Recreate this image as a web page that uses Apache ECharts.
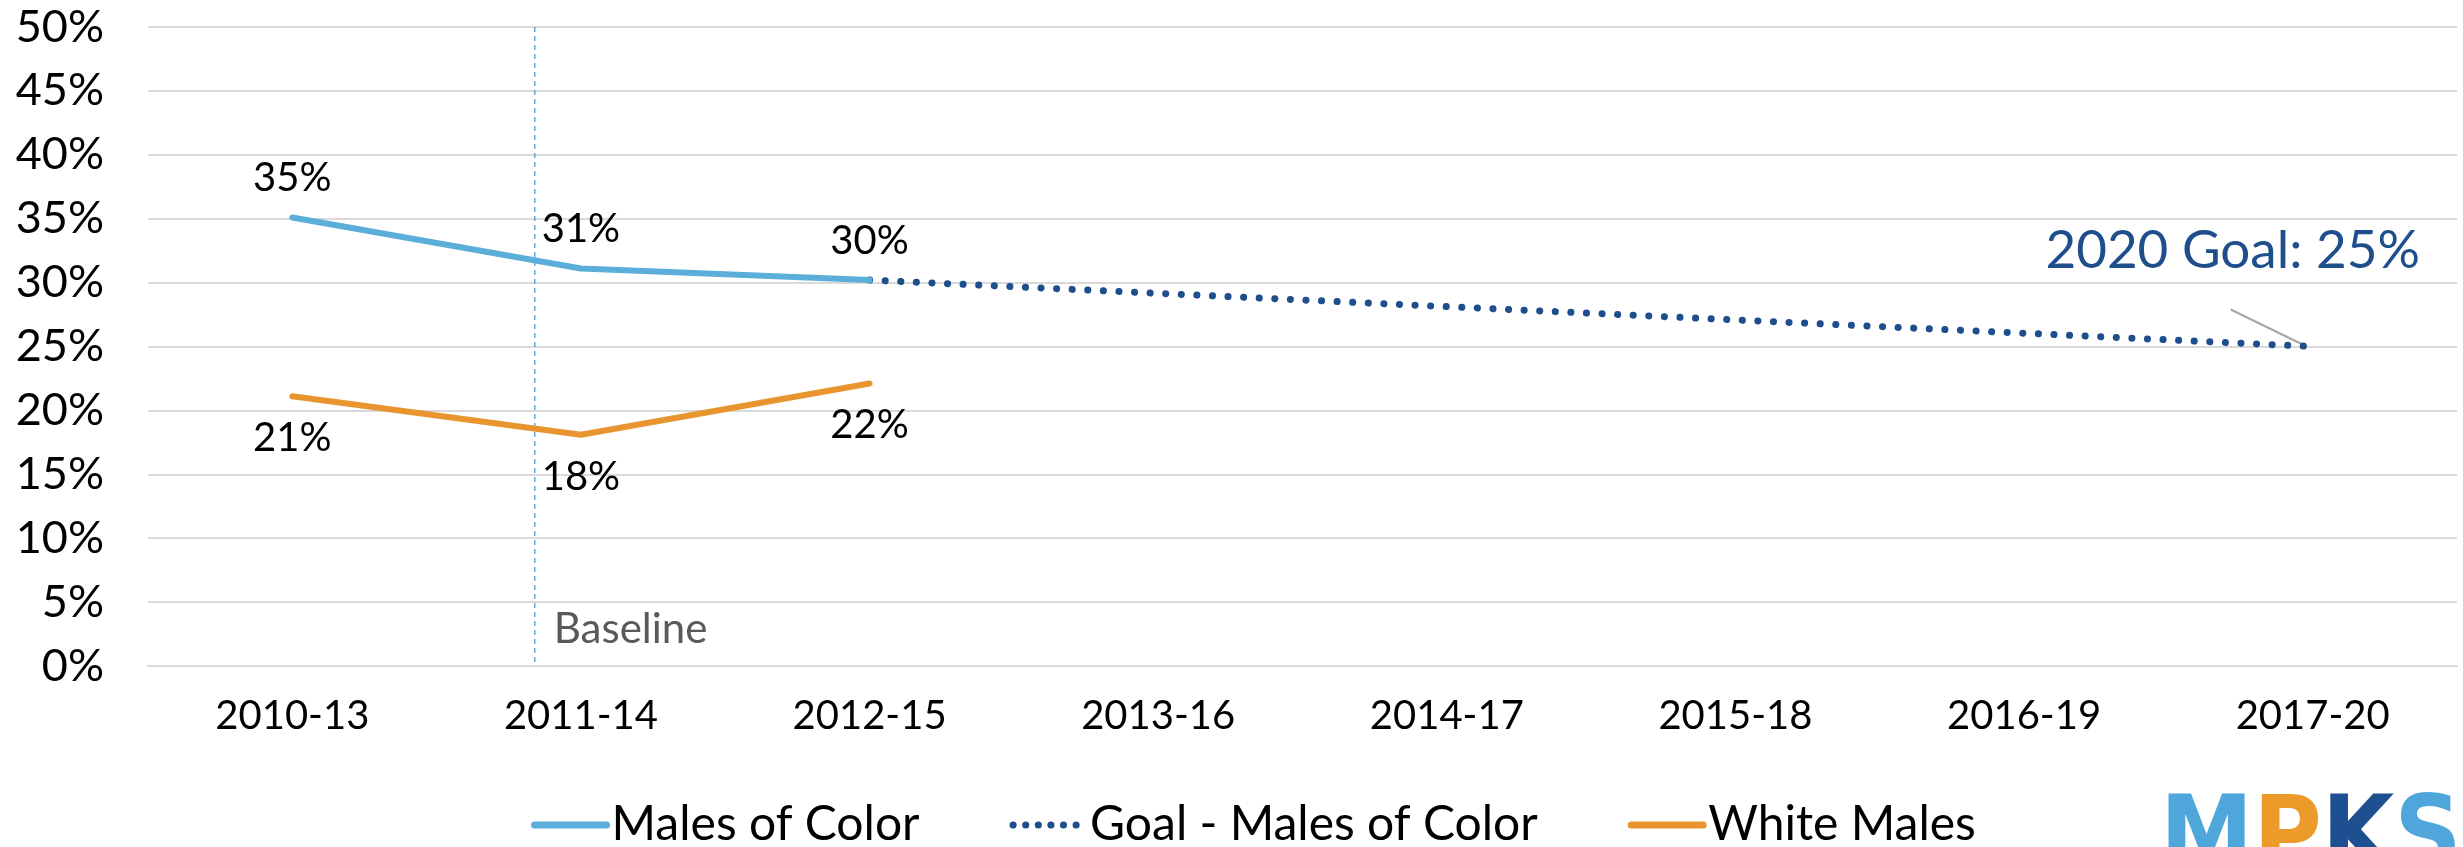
<!DOCTYPE html>
<html>
<head>
<meta charset="utf-8">
<script src="https://cdn.jsdelivr.net/npm/echarts@6/dist/echarts.min.js"></script>
<style>
  html, body { margin: 0; padding: 0; background: #fff; }
  #chart { width: 2463px; height: 847px; }
</style>
</head>
<body>
<div id="chart"></div>
<script>
// 数据
const periods = ['2010-13', '2011-14', '2012-15', '2013-16', '2014-17', '2015-18', '2016-19', '2017-20'];
const malesOfColor = [35.1, 31.1, 30.2, null, null, null, null, null];
const goalMalesOfColor = [null, null, 30.2, null, null, null, null, 25];
const whiteMales = [21.1, 18.1, 22.1, null, null, null, null, null];
const yTicks = [0, 50, 5];
const goalText = '2020 Goal: 25%';
const baselineText = 'Baseline';
const baselineAt = 0.84; // between 2010-13 and 2011-14

const FONT = 'Lato';
const BLUE = '#5BADDA';
const NAVY = '#1F4E8C';
const ORANGE = '#E8952F';
const DOTS = [0.1, 15.5];

const myChart = echarts.init(document.getElementById('chart'));

const pctLabel = (pos, dist) => ({
  show: true, position: pos, distance: dist,
  fontFamily: FONT, fontSize: 40, color: '#000',
  formatter: (p) => Math.round(p.value) + '%'
});

const option = {
  backgroundColor: '#ffffff',
  textStyle: { fontFamily: FONT },
  grid: { left: 148, right: 6, top: 27, bottom: 181 },
  legend: {
    data: [
      { name: 'Males of Color', itemStyle: { opacity: 0 }, lineStyle: { width: 7, color: BLUE, cap: 'round' } },
      { name: 'Goal - Males of Color', itemStyle: { opacity: 0 }, lineStyle: { width: 7, color: NAVY, type: [0.1, 12.5], cap: 'round' } },
      { name: 'White Males', itemStyle: { opacity: 0 }, lineStyle: { width: 7, color: ORANGE, cap: 'round' } }
    ],
    left: 526,
    top: 796,
    itemGap: 90,
    itemWidth: 72,
    itemHeight: 14,
    textStyle: { fontFamily: FONT, fontSize: 48, color: '#000' }
  },
  xAxis: {
    type: 'category',
    data: periods,
    boundaryGap: true,
    axisLine: { lineStyle: { color: '#D9D9D9', width: 2 } },
    axisTick: { show: false },
    axisLabel: { fontFamily: FONT, fontSize: 40, color: '#000', margin: 30 }
  },
  yAxis: {
    type: 'value',
    min: yTicks[0],
    max: yTicks[1],
    interval: yTicks[2],
    axisLine: { show: false },
    axisTick: { show: false },
    axisLabel: { formatter: '{value}%', fontFamily: FONT, fontSize: 45, color: '#000', margin: 44 },
    splitLine: { lineStyle: { color: '#D9D9D9', width: 2 } }
  },
  series: [
    {
      name: 'Males of Color',
      type: 'line',
      data: malesOfColor,
      symbol: 'circle',
      symbolSize: 2,
      showSymbol: true,
      color: BLUE,
      lineStyle: { width: 6, color: BLUE, cap: 'round' },
      label: pctLabel('top', 18),
      z: 3
    },
    {
      name: 'Goal - Males of Color',
      type: 'line',
      data: goalMalesOfColor,
      connectNulls: true,
      symbol: 'none',
      color: NAVY,
      lineStyle: { width: 7, color: NAVY, type: DOTS, cap: 'round' },
      z: 2
    },
    {
      name: 'White Males',
      type: 'line',
      data: whiteMales,
      symbol: 'circle',
      symbolSize: 2,
      showSymbol: true,
      color: ORANGE,
      lineStyle: { width: 6, color: ORANGE, cap: 'round' },
      label: pctLabel('bottom', 21),
      z: 3
    }
  ]
};

myChart.setOption(option);

// 注释：基线、目标标签、标志
const p0 = myChart.convertToPixel({ xAxisIndex: 0, yAxisIndex: 0 }, [0, 0]);
const p1 = myChart.convertToPixel({ xAxisIndex: 0, yAxisIndex: 0 }, [1, 50]);
const bx = p0[0] + (p1[0] - p0[0]) * baselineAt;
const goalEnd = myChart.convertToPixel({ seriesIndex: 1 }, [7, 25]);
const logoFont = { fontFamily: 'DejaVu Sans Condensed', fontWeight: 'bold', fontSize: 104 };

myChart.setOption({
  graphic: [
    {
      type: 'line',
      shape: { x1: bx, y1: p1[1], x2: bx, y2: p0[1] },
      style: { stroke: BLUE, lineWidth: 1.5, lineDash: [5, 4] },
      z: 1
    },
    {
      type: 'text',
      x: bx + 19, y: p0[1] - 37,
      style: { text: baselineText, fontFamily: FONT, fontSize: 42, fill: '#595959', verticalAlign: 'middle' }
    },
    {
      type: 'line',
      shape: { x1: goalEnd[0] - 82, y1: goalEnd[1] - 37, x2: goalEnd[0] - 6, y2: goalEnd[1] },
      style: { stroke: '#A6A6A6', lineWidth: 2 }
    },
    {
      type: 'text',
      x: 2420, y: 251,
      style: { text: goalText, fontFamily: FONT, fontSize: 53, fill: NAVY, align: 'right', verticalAlign: 'middle' }
    },
    {
      type: 'text',
      x: 2160, y: 790,
      style: {
        text: '{a|M}{b|P}{c|K}{a|S}{b|A}',
        rich: {
          a: Object.assign({ fill: '#4EA6DB' }, logoFont),
          b: Object.assign({ fill: '#EC9A2A' }, logoFont),
          c: Object.assign({ fill: '#1E4F91' }, logoFont)
        }
      }
    }
  ]
});
</script>
</body>
</html>
